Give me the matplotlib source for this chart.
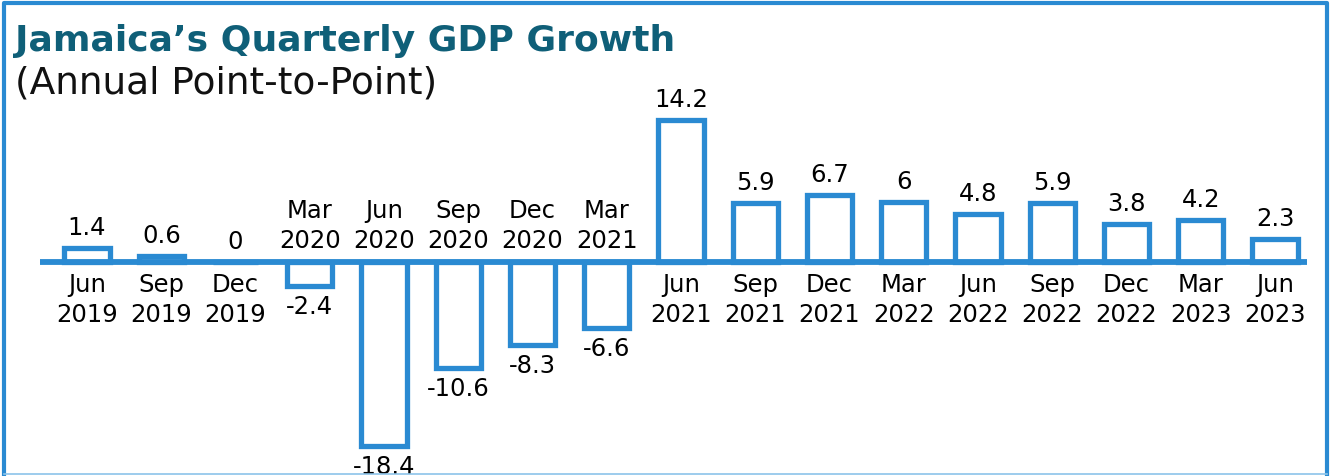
import numpy as np
import matplotlib.pyplot as plt
from matplotlib.lines import Line2D

quarters = ['Jun\n2019', 'Sep\n2019', 'Dec\n2019', 'Mar\n2020', 'Jun\n2020', 'Sep\n2020',
            'Dec\n2020', 'Mar\n2021', 'Jun\n2021', 'Sep\n2021', 'Dec\n2021', 'Mar\n2022',
            'Jun\n2022', 'Sep\n2022', 'Dec\n2022', 'Mar\n2023', 'Jun\n2023']
growth = [1.4, 0.6, 0, -2.4, -18.4, -10.6, -8.3, -6.6, 14.2, 5.9, 6.7, 6, 4.8, 5.9, 3.8, 4.2, 2.3]
value_labels = ['1.4', '0.6', '0', '-2.4', '-18.4', '-10.6', '-8.3', '-6.6', '14.2', '5.9',
                '6.7', '6', '4.8', '5.9', '3.8', '4.2', '2.3']

blue = '#2a8ad2'
teal = '#0f5f78'
font = 'DejaVu Sans'

fig = plt.figure(figsize=(13.31, 4.77), dpi=100)
ax = fig.add_axes([0, 0, 1, 1])
x = np.arange(len(growth))

ax.bar(x, growth, width=0.61, facecolor='white', edgecolor=blue, linewidth=3.8, zorder=2)
ax.plot([-0.63, 16.43], [0, 0], color=blue, lw=4.2, solid_capstyle='butt', zorder=3)

for xi, v, q, lab in zip(x, growth, quarters, value_labels):
    if v >= 0:
        ax.text(xi, v + 0.9, lab, ha='center', va='bottom', fontsize=17.5, family=font)
        ax.text(xi, -1.0, q, ha='center', va='top', fontsize=17.5, family=font, linespacing=1.3)
    else:
        ax.text(xi, v - 0.8, lab, ha='center', va='top', fontsize=17.5, family=font)
        ax.text(xi, 1.0, q, ha='center', va='bottom', fontsize=17.5, family=font, linespacing=1.3)

ax.set_xlim(-1.172, 16.754)
ax.set_ylim(-21.4, 26.3)
ax.axis('off')

fig.text(0.011, 0.95, "Jamaica\u2019s Quarterly GDP Growth", fontsize=26, fontweight='bold',
         color=teal, family=font, va='top')
fig.text(0.011, 0.862, "(Annual Point-to-Point)", fontsize=27, color='#111111', family=font, va='top')

# frame
fig.add_artist(Line2D([0.003, 0.003, 0.997, 0.997], [0.004, 0.992, 0.992, 0.004],
                      transform=fig.transFigure, color=blue, lw=3))
fig.add_artist(Line2D([0.003, 0.997], [0.004, 0.004], transform=fig.transFigure,
                      color='#8cc4ea', lw=1.2))

fig.savefig('out.png', dpi=100)
